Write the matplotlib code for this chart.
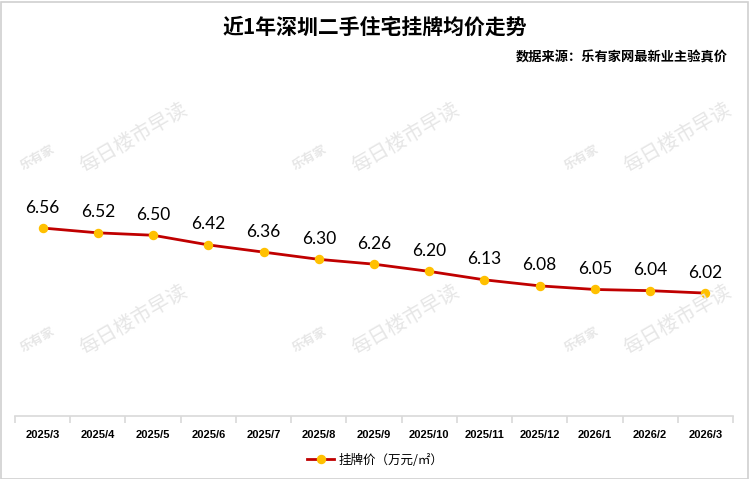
import matplotlib
matplotlib.use("Agg")
import numpy as np
from matplotlib import pyplot as plt
from matplotlib.patches import Rectangle

plt.rcParams['font.family'] = ['Noto Sans CJK SC', 'DejaVu Sans']

months = ["2025/3", "2025/4", "2025/5", "2025/6", "2025/7", "2025/8", "2025/9",
          "2025/10", "2025/11", "2025/12", "2026/1", "2026/2", "2026/3"]
prices = [6.56, 6.52, 6.50, 6.42, 6.36, 6.30, 6.26, 6.20, 6.13, 6.08, 6.05, 6.04, 6.02]

title = "近1年深圳二手住宅挂牌均价走势"
source = "数据来源：乐有家网最新业主验真价"
series_name = "挂牌价（万元/㎡）"

W, H = 749, 479
fig = plt.figure(figsize=(W / 100, H / 100), dpi=100, facecolor="white")

# outer border
fig.patches.append(Rectangle((0.5 / W, 0.5 / H), 1 - 2 / W, 1 - 2 / H,
                             transform=fig.transFigure, fill=False,
                             edgecolor="#d0d0d0", linewidth=1.2))

# watermarks
wm_color = "#e6e6e6"
for row_y in (158, 340):
    for col_x in (38, 310, 582):
        fig.text(col_x / W, 1 - row_y / H, "乐有家", fontsize=9, fontweight="bold",
                 color=wm_color, rotation=30, ha="center", va="center", zorder=0)
        fig.text((col_x + 96) / W, 1 - (row_y - 20) / H, "每日楼市早读", fontsize=14.5,
                 color=wm_color, rotation=30, ha="center", va="center", zorder=0)

fig.text(375 / W, 1 - 27 / H, title, fontsize=15, fontweight="bold",
         ha="center", va="center", color="black")
fig.text(728 / W, 1 - 58 / H, source, fontsize=9.5, fontweight="bold",
         ha="right", va="center", color="black")

ax = fig.add_axes([15 / W, 1 - 416 / H, 718 / W, 241 / H])
ax.set_facecolor("none")
x = np.arange(len(months))
line, = ax.plot(x, prices, color="#C00000", linewidth=2.0, marker="o",
                markersize=5.8, markerfacecolor="#FFC000", markeredgecolor="#FFC000",
                zorder=3, label=series_name)

for xi, v in zip(x, prices):
    ax.annotate(f"{v:.2f}", (xi, v), xytext=(0, 9), textcoords="offset points",
                ha="center", va="bottom", fontsize=12.5, family="Lato", color="black")

ax.set_xlim(-0.5, len(months) - 0.5)
ax.set_ylim(5.0, 7.0)
ax.set_yticks([])
for s in ("left", "right", "top"):
    ax.spines[s].set_visible(False)
ax.spines["bottom"].set_color("#d9d9d9")
ax.spines["bottom"].set_linewidth(1.2)

ax.set_xticks(x)
ax.set_xticklabels(months, fontsize=8, fontweight="bold", family="Liberation Sans")
ax.tick_params(axis="x", which="major", length=0, pad=10)
ax.set_xticks(np.arange(-0.5, len(months)), minor=True)
ax.tick_params(axis="x", which="minor", length=5, color="#d9d9d9", width=1.2)

fig.legend(handles=[line], loc="center", bbox_to_anchor=(375 / W, 1 - 460 / H),
           frameon=False, fontsize=9, handlelength=2.2, handletextpad=0.3)

fig.savefig("out.png", dpi=100, facecolor="white")
